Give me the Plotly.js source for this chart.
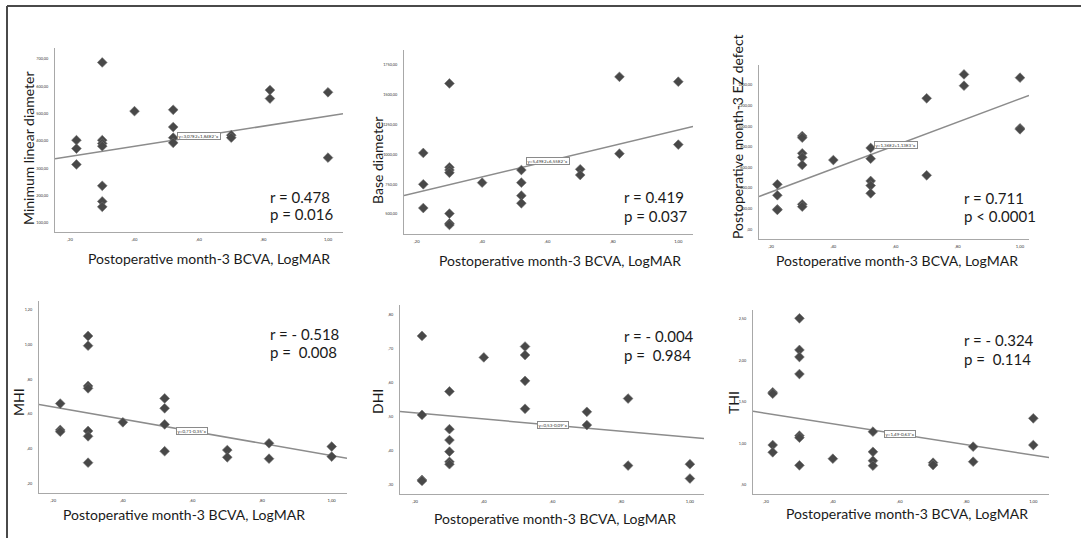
<!DOCTYPE html>
<html>
<head>
<meta charset="utf-8">
<script src="https://cdn.plot.ly/plotly-3.0.1.min.js"></script>
<style>html,body{margin:0;padding:0;background:#fff;}#chart{width:1081px;height:538px;}</style>
</head>
<body>
<div id="chart"></div>
<script>
// ---------- DATA ----------
const xTitle = "Postoperative month-3 BCVA, LogMAR";
const xTickVals = [0.2, 0.4, 0.6, 0.8, 1.0];
const xTickText = [",20", ",40", ",60", ",80", "1,00"];

const mldX = [0.22,0.22,0.22, 0.30,0.30,0.30,0.30,0.30,0.30,0.30, 0.40, 0.52,0.52,0.52,0.52, 0.70,0.70, 0.82,0.82, 1.00,1.00];
const mldY = [403,372,314, 687,403,391,381,236,179,159, 509, 514,451,412,393, 421,412, 586,555, 578,339];
const mldTickVals = [100,200,300,400,500,600,700];
const mldTickText = ["100,00","200,00","300,00","400,00","500,00","600,00","700,00"];

const baseX = [0.22,0.22,0.22, 0.30,0.30,0.30,0.30,0.30,0.30,0.30, 0.40, 0.52,0.52,0.52,0.52, 0.70,0.70, 0.82,0.82, 1.00,1.00];
const baseY = [1012,749,550, 1595,892,869,846,503,421,408, 763, 869,763,654,590, 875,827, 1651,1006, 1610,1082];
const baseTickVals = [500,750,1000,1250,1500,1750];
const baseTickText = ["500,00","750,00","1000,00","1250,00","1500,00","1750,00"];

const ezX = [0.22,0.22,0.22,0.22, 0.30,0.30,0.30,0.30,0.30,0.30,0.30, 0.40, 0.52,0.52,0.52,0.52,0.52, 0.70,0.70, 0.82,0.82, 1.00,1.00,1.00];
const ezY = [436,330,194,188, 905,889,737,698,624,242,220, 672, 789,685,469,424,349, 1271,524, 1503,1393, 1471,980,970];
const ezTickVals = [0,200,400,600,800,1000,1200,1400];
const ezTickText = [",00","200,00","400,00","600,00","800,00","1000,00","1200,00","1400,00"];

const mhiX = [0.22,0.22,0.22, 0.30,0.30,0.30,0.30,0.30,0.30,0.30, 0.40, 0.52,0.52,0.52,0.52, 0.70,0.70, 0.82,0.82, 1.00,1.00];
const mhiY = [0.660,0.508,0.498, 1.050,0.994,0.762,0.748,0.502,0.471,0.319, 0.552, 0.690,0.633,0.540,0.385, 0.392,0.350, 0.431,0.342, 0.412,0.354];
const mhiTickVals = [0.2,0.4,0.6,0.8,1.0,1.2];
const mhiTickText = [",20",",40",",60",",80","1,00","1,20"];

const dhiX = [0.22,0.22,0.22,0.22, 0.30,0.30,0.30,0.30,0.30,0.30, 0.40, 0.52,0.52,0.52,0.52, 0.70,0.70, 0.82,0.82, 1.00,1.00];
const dhiY = [0.738,0.506,0.315,0.312, 0.575,0.464,0.432,0.398,0.368,0.361, 0.675, 0.707,0.682,0.606,0.524, 0.515,0.476, 0.554,0.357, 0.361,0.319];
const dhiTickVals = [0.3,0.4,0.5,0.6,0.7,0.8];
const dhiTickText = [",30",",40",",50",",60",",70",",80"];

const thiX = [0.22,0.22,0.22,0.22, 0.30,0.30,0.30,0.30,0.30,0.30,0.30, 0.40, 0.52,0.52,0.52,0.52, 0.70,0.70, 0.82,0.82, 1.00,1.00];
const thiY = [1.617,1.600,0.982,0.894, 2.508,2.127,2.042,1.837,1.094,1.070,0.737, 0.817, 1.143,0.900,0.793,0.733, 0.769,0.741, 0.962,0.781, 1.303,0.982];
const thiTickVals = [0.5,1.0,1.5,2.0,2.5];
const thiTickText = [",50","1,00","1,50","2,00","2,50"];

const yTitles = ["Minimum linear diameter","Base diameter","Postoperative month-3 EZ defect","MHI","DHI","THI"];
const intercepts = [307, 549, 136, 0.71, 0.53, 1.49];
const slopes = [184, 655, 1130, -0.35, -0.09, -0.63];
const eqTexts = ["y=3,07E2+1,84E2*x","y=5,49E2+6,55E2*x","y=1,36E2+1,13E3*x","y=0,71-0,35*x","y=0,53-0,09*x","y=1,49-0,63*x"];
const rTexts = ["r = 0.478","r = 0.419","r = 0.711","r = - 0.518","r = - 0.004","r = - 0.324"];
const pTexts = ["p = 0.016","p = 0.037","p < 0.0001","p =  0.008","p =  0.984","p =  0.114"];

// ---------- LAYOUT ----------
const W = 1081, H = 538;
const series = [
  {x: mldX,  y: mldY,  tv: mldTickVals,  tt: mldTickText},
  {x: baseX, y: baseY, tv: baseTickVals, tt: baseTickText},
  {x: ezX,   y: ezY,   tv: ezTickVals,   tt: ezTickText},
  {x: mhiX,  y: mhiY,  tv: mhiTickVals,  tt: mhiTickText},
  {x: dhiX,  y: dhiY,  tv: dhiTickVals,  tt: dhiTickText},
  {x: thiX,  y: thiY,  tv: thiTickVals,  tt: thiTickText}
];
// pixel boxes [left,right,top,bottom], axis ranges
const geo = [
  {box:[55,343,48,232],   xr:[0.1535,1.0465], yr:[67,740],      xt:[209,258], yt:[28,148], rp:[268,197,214]},
  {box:[404,693,50,234],  xr:[0.161,1.045],   yr:[332,1876],    xt:[560,260], yt:[377,161], rp:[622,197,216]},
  {box:[759,1029,65,239], xr:[0.161,1.029],   yr:[-94,1594],    xt:[897,260], yt:[737,137], rp:[962,198,216]},
  {box:[39,347,301,493],  xr:[0.159,1.044],   yr:[0.144,1.252], xt:[184,514], yt:[18,402],  rp:[268,334,352]},
  {box:[400,704,305,494], xr:[0.156,1.041],   yr:[0.2735,0.829],xt:[555,518], yt:[377,402], rp:[622,336,355]},
  {box:[753,1049,310,494],xr:[0.161,1.047],   yr:[0.392,2.608], xt:[907,513], yt:[733,403], rp:[962,340,359]}
];

const FONT = "Lato, 'Open Sans', sans-serif";
const traces = [];
const layout = {
  width: W, height: H,
  margin: {l:0, r:0, t:0, b:0},
  paper_bgcolor: "#ffffff", plot_bgcolor: "#ffffff",
  showlegend: false,
  font: {family: FONT, color: "#222"},
  annotations: [],
  shapes: [
    {type:"line", xref:"paper", yref:"paper", x0:7/W, x1:1, y0:1-6/H, y1:1-6/H, line:{color:"#4a4a4a", width:2}},
    {type:"line", xref:"paper", yref:"paper", x0:7/W, x1:7/W, y0:0, y1:1-6/H, line:{color:"#4a4a4a", width:2}}
  ]
};

series.forEach((s, i) => {
  const g = geo[i];
  const n = i + 1;
  const xa = "x" + (n === 1 ? "" : n), ya = "y" + (n === 1 ? "" : n);
  const xk = "xaxis" + (n === 1 ? "" : n), yk = "yaxis" + (n === 1 ? "" : n);
  const [l, r, t, b] = g.box;
  layout[xk] = {
    domain: [l / W, r / W], range: g.xr, anchor: ya,
    showline: true, linecolor: "#a8a8a8", linewidth: 1, mirror: false,
    showgrid: false, zeroline: false,
    tickmode: "array", tickvals: xTickVals, ticktext: xTickText,
    ticks: "outside", ticklen: 3, tickcolor: "rgba(0,0,0,0)",
    tickfont: {size: 4.2, color: "#333", family: FONT}
  };
  layout[yk] = {
    domain: [1 - b / H, 1 - t / H], range: g.yr, anchor: xa,
    showline: true, linecolor: "#a8a8a8", linewidth: 1, mirror: false,
    showgrid: false, zeroline: false,
    tickmode: "array", tickvals: s.tv, ticktext: s.tt,
    ticks: "outside", ticklen: 5, tickcolor: "rgba(0,0,0,0)",
    tickfont: {size: 3.8, color: "#333", family: FONT}
  };
  // regression line across the axis range
  const lx = [g.xr[0], g.xr[1]];
  traces.push({
    type: "scatter", mode: "lines", xaxis: xa, yaxis: ya,
    x: lx, y: lx.map(v => intercepts[i] + slopes[i] * v),
    line: {color: "#8c8c8c", width: 1.5}, hoverinfo: "skip"
  });
  traces.push({
    type: "scatter", mode: "markers", xaxis: xa, yaxis: ya,
    x: s.x, y: s.y,
    marker: {symbol: "diamond", size: 7.5, color: "#484848", line: {color: "#707070", width: 0.6}}
  });
  // equation box
  layout.annotations.push({
    xref: xa, yref: ya, x: 0.60, y: intercepts[i] + slopes[i] * 0.60,
    text: eqTexts[i], showarrow: false,
    font: {size: 4.5, color: "#333", family: FONT},
    bgcolor: "#ffffff", bordercolor: "#8a8a8a", borderwidth: 1, borderpad: 0.5
  });
  // axis titles
  layout.annotations.push({
    xref: "paper", yref: "paper", x: g.xt[0] / W, y: 1 - g.xt[1] / H,
    xanchor: "center", yanchor: "middle", showarrow: false,
    text: xTitle, font: {size: 14, color: "#1a1a1a", family: FONT}
  });
  layout.annotations.push({
    xref: "paper", yref: "paper", x: g.yt[0] / W, y: 1 - g.yt[1] / H,
    xanchor: "center", yanchor: "middle", showarrow: false, textangle: -90,
    text: yTitles[i], font: {size: 14, color: "#1a1a1a", family: FONT}
  });
  // r / p
  layout.annotations.push({
    xref: "paper", yref: "paper", x: g.rp[0] / W, y: 1 - g.rp[1] / H,
    xanchor: "left", yanchor: "middle", showarrow: false,
    text: rTexts[i], font: {size: 15, color: "#1a1a1a", family: FONT}
  });
  layout.annotations.push({
    xref: "paper", yref: "paper", x: g.rp[0] / W, y: 1 - g.rp[2] / H,
    xanchor: "left", yanchor: "middle", showarrow: false,
    text: pTexts[i], font: {size: 15, color: "#1a1a1a", family: FONT}
  });
});

Plotly.newPlot("chart", traces, layout, {staticPlot: true, displayModeBar: false});
</script>
</body>
</html>
